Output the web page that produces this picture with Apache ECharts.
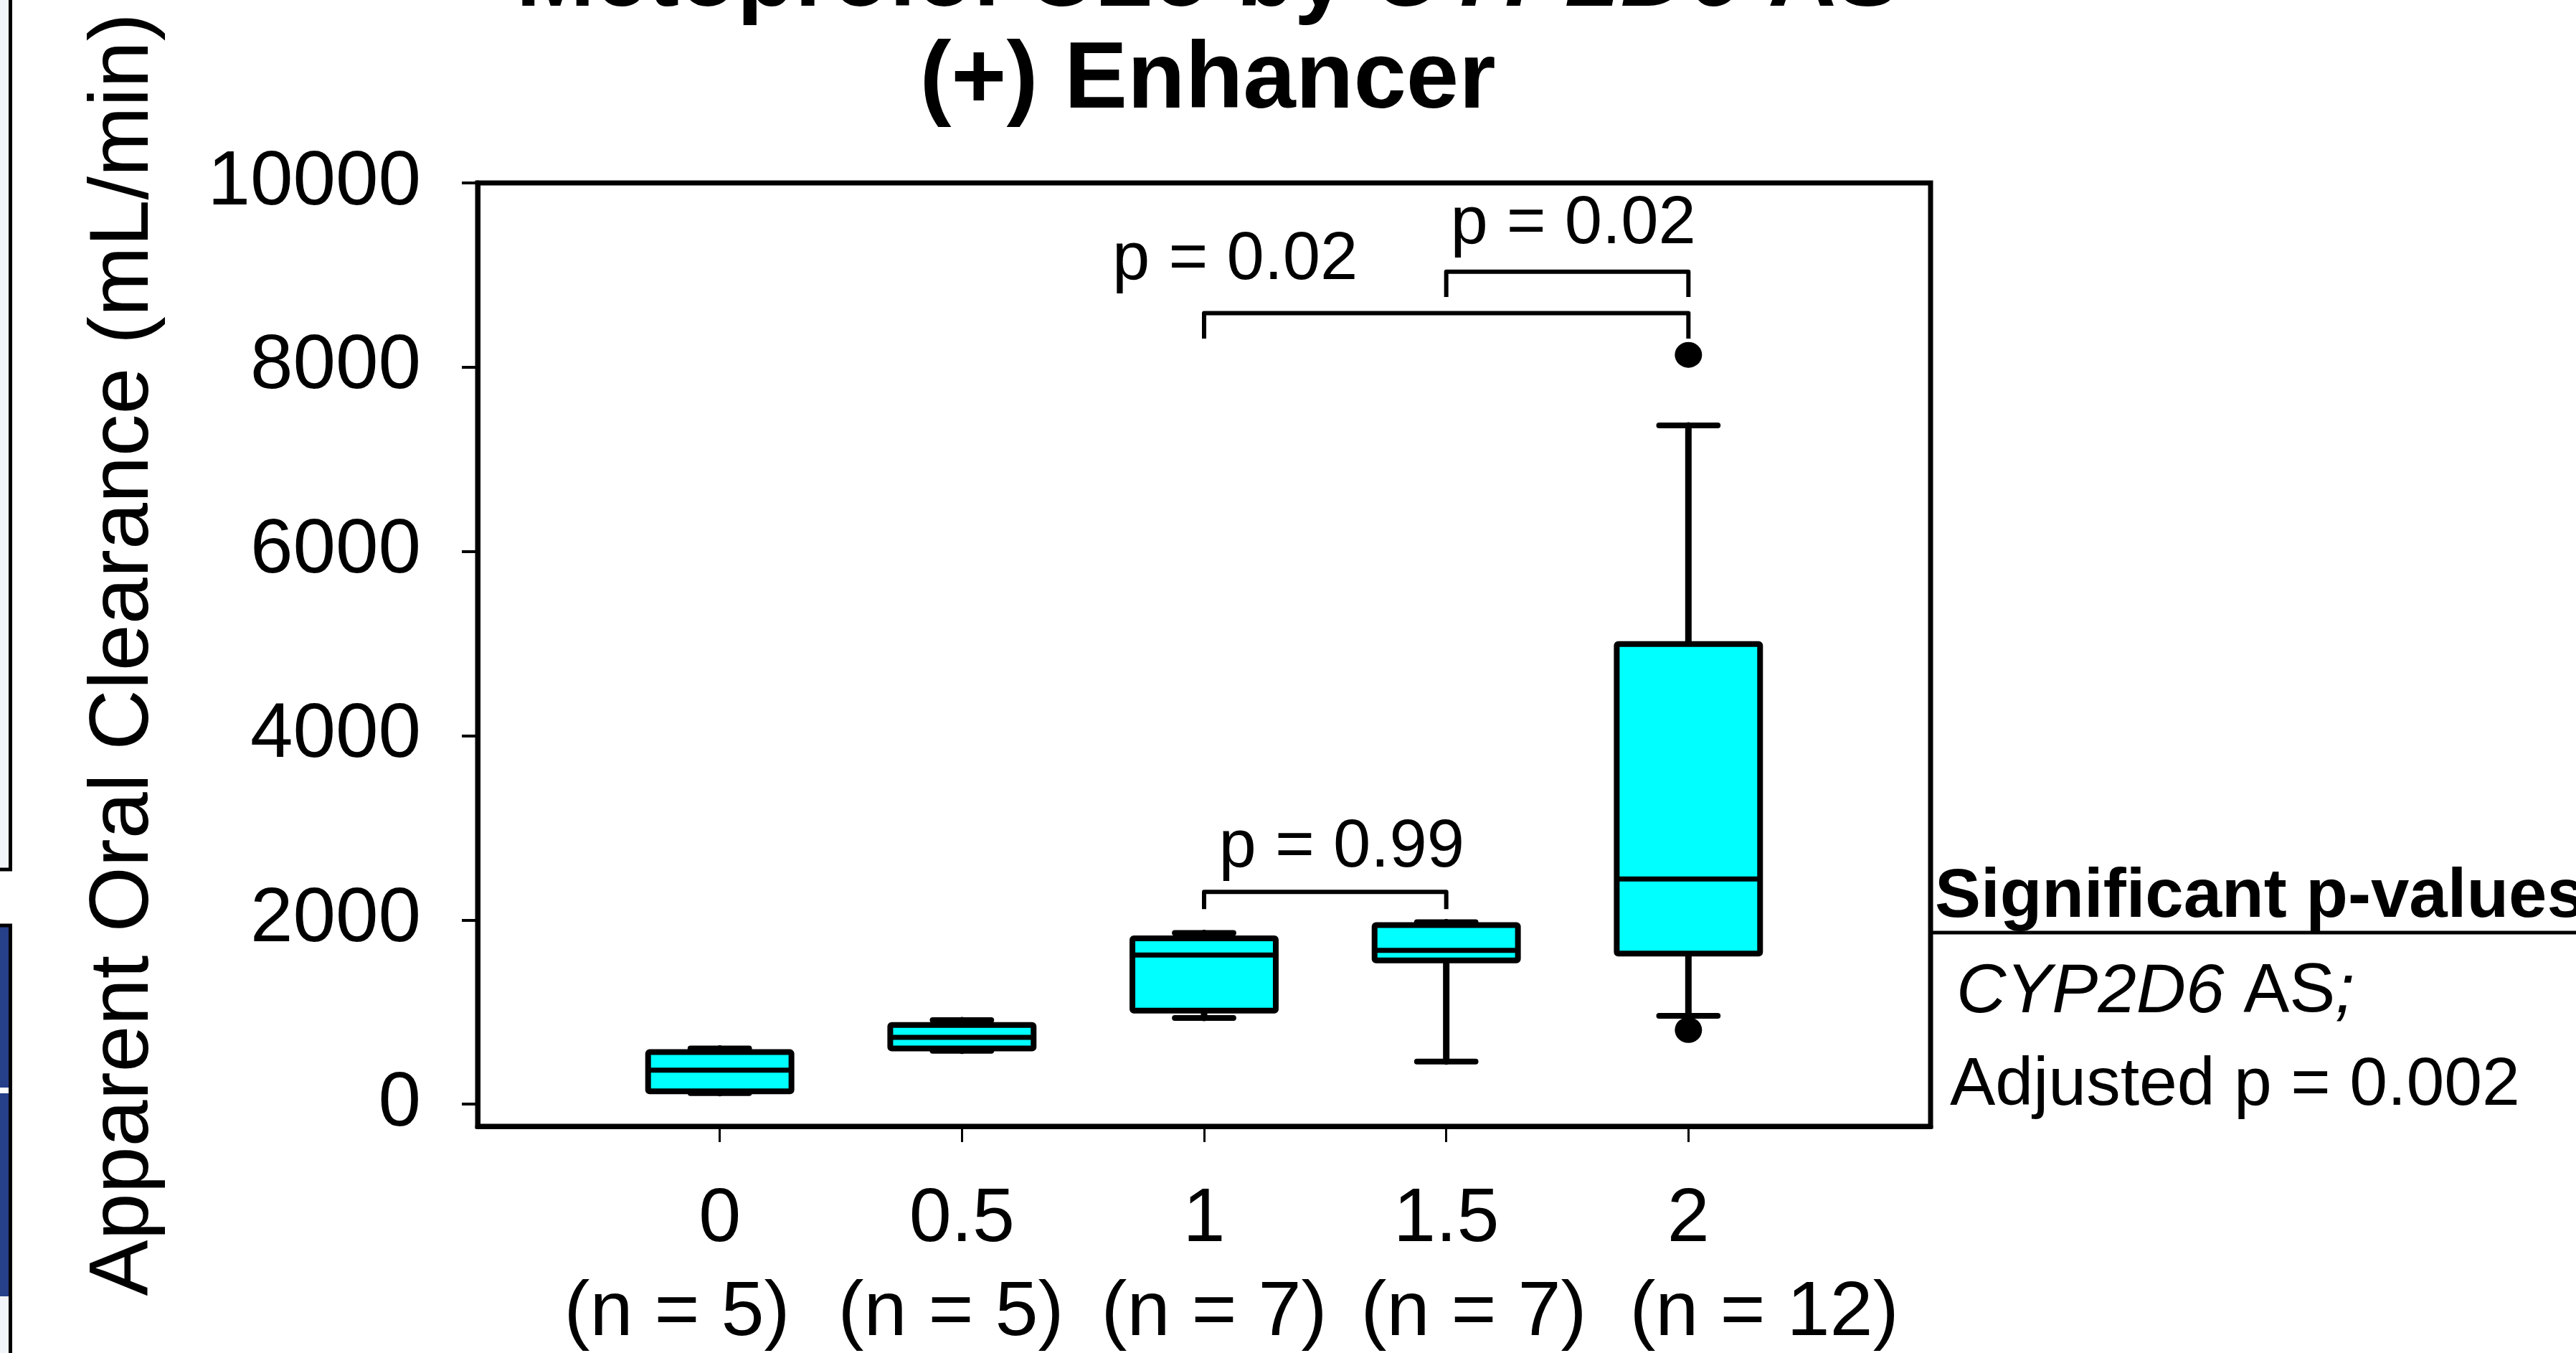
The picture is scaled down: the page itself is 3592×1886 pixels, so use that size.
<!DOCTYPE html>
<html>
<head>
<meta charset="utf-8">
<script src="https://cdn.jsdelivr.net/npm/echarts@6/dist/echarts.min.js"></script>
<style>
html,body{margin:0;padding:0;background:#fff;}
#chart{width:3592px;height:1886px;}
</style>
</head>
<body>
<div id="chart"></div>
<script>
// ---- data ----
const categories   = [0, 0.5, 1, 1.5, 2];
const xTickLabels  = ['0', '0.5', '1', '1.5', '2'];
const nLabels      = ['(n = 5)', '(n = 5)', '(n = 7)', '(n = 7)', '(n = 12)'];
const whiskerLow   = [120, 580, 935, 463, 960];
const q1           = [140, 605, 1015, 1560, 1635];
const median       = [370, 725, 1620, 1670, 2445];
const q3           = [565, 860, 1800, 1945, 4995];
const whiskerHigh  = [605, 912, 1858, 1975, 7368];
const outlierX     = [2, 2];
const outlierY     = [8134, 805];
const yTicks       = [0, 2000, 4000, 6000, 8000, 10000];
const bracketFrom  = [1, 1, 1.5];
const bracketTo    = [1.5, 2, 2];
const bracketTop   = [2305, 8586, 9037];
const bracketLeg   = [2118, 8310, 8762];
const pLabels      = ['p = 0.99', 'p = 0.02', 'p = 0.02'];
const pLabelX      = [1.284, 1.064, 1.762];
const pLabelY      = [2781, 9158, 9548];

// ---- style / layout constants ----
const FONT = '"Liberation Sans", Arial, sans-serif';
const BOX_WIDTH = 0.296;   // in x-axis units
const CAP_WIDTH = 0.121;   // in x-axis units
const N_LABEL_PX = [944, 1326, 1693, 2055, 2460]; // hand-placed n labels (pixel layout)
const N_LABEL_Y = 1831;

const chart = echarts.init(document.getElementById('chart'));

function renderBox(params, api) {
  const x = api.value(0);
  const pLow = api.coord([x, api.value(1)]);
  const pQ1 = api.coord([x, api.value(2)]);
  const pMed = api.coord([x, api.value(3)]);
  const pQ3 = api.coord([x, api.value(4)]);
  const pHigh = api.coord([x, api.value(5)]);
  const bw = api.size([BOX_WIDTH, 0])[0];
  const cw = api.size([CAP_WIDTH, 0])[0];
  const cx = pLow[0];
  const ls = {stroke: '#000', lineWidth: 9, lineCap: 'round'};
  const cs = {stroke: '#000', lineWidth: 8, lineCap: 'round'};
  return {
    type: 'group',
    children: [
      {type: 'line', shape: {x1: cx, y1: pLow[1], x2: cx, y2: pQ1[1]}, style: ls},
      {type: 'line', shape: {x1: cx, y1: pQ3[1], x2: cx, y2: pHigh[1]}, style: ls},
      {type: 'line', shape: {x1: cx - cw / 2, y1: pLow[1], x2: cx + cw / 2, y2: pLow[1]}, style: cs},
      {type: 'line', shape: {x1: cx - cw / 2, y1: pHigh[1], x2: cx + cw / 2, y2: pHigh[1]}, style: cs},
      {type: 'rect', shape: {x: cx - bw / 2, y: pQ3[1], width: bw, height: pQ1[1] - pQ3[1], r: 2},
        style: {fill: '#00FFFF', stroke: '#000', lineWidth: 8, lineJoin: 'round'}},
      {type: 'line', shape: {x1: cx - bw / 2, y1: pMed[1], x2: cx + bw / 2, y2: pMed[1]},
        style: {stroke: '#000', lineWidth: 7}}
    ]
  };
}

function renderBracket(params, api) {
  const a = api.coord([api.value(0), api.value(3)]);
  const b = api.coord([api.value(0), api.value(2)]);
  const c = api.coord([api.value(1), api.value(2)]);
  const d = api.coord([api.value(1), api.value(3)]);
  const t = api.coord([api.value(4), api.value(5)]);
  return {
    type: 'group',
    children: [
      {type: 'polyline', shape: {points: [a, b, c, d]},
        style: {stroke: '#000', lineWidth: 6, lineJoin: 'round', fill: null}},
      {type: 'text', x: t[0], y: t[1],
        style: {text: pLabels[params.dataIndex], font: '94px ' + FONT, fill: '#000',
          align: 'center', verticalAlign: 'middle'}}
    ]
  };
}

const nLabelGraphics = nLabels.map((t, i) => ({
  type: 'text', x: N_LABEL_PX[i], y: N_LABEL_Y,
  style: {text: t, font: '108px ' + FONT, fill: '#000', align: 'center', verticalAlign: 'middle'}
}));

const option = {
  animation: false,
  backgroundColor: '#fff',
  title: {
    text: '{b|Metoprolol CLo by }{bi|CYP2D6}{b| AS}\n{b|(+) Enhancer}',
    left: 1679,
    top: -104,
    textAlign: 'center',
    textStyle: {
      rich: {
        b: {fontSize: 132, fontWeight: 'bold', fontFamily: FONT, color: '#000', lineHeight: 142},
        bi: {fontSize: 132, fontWeight: 'bold', fontStyle: 'italic', fontFamily: FONT, color: '#000', lineHeight: 142}
      }
    }
  },
  grid: {
    left: 666, right: 900, top: 255, bottom: 316,
    show: true, borderColor: '#000', borderWidth: 7, backgroundColor: 'transparent',
    outerBoundsMode: 'none', containLabel: false
  },
  xAxis: {
    type: 'value',
    min: -0.5, max: 2.5,
    splitLine: {show: false},
    axisLine: {show: true, onZero: false, lineStyle: {color: '#000', width: 7}},
    axisTick: {show: true, customValues: categories, length: 22, lineStyle: {color: '#000', width: 3}},
    axisLabel: {
      customValues: categories,
      hideOverlap: false,
      margin: 66,
      lineHeight: 130,
      formatter: function (v) {
        const i = categories.indexOf(v);
        return i < 0 ? '' : xTickLabels[i];
      },
      fontSize: 106, fontFamily: FONT, color: '#000'
    }
  },
  yAxis: {
    type: 'value',
    min: -240, max: 10000,
    name: 'Apparent Oral Clearance (mL/min)',
    nameLocation: 'middle',
    nameGap: 434,
    nameTextStyle: {fontSize: 117, fontFamily: FONT, color: '#000'},
    splitLine: {show: false},
    axisLine: {show: true, onZero: false, lineStyle: {color: '#000', width: 7}},
    axisTick: {show: true, customValues: yTicks, length: 22, lineStyle: {color: '#000', width: 4}},
    axisLabel: {
      customValues: yTicks,
      hideOverlap: false,
      margin: 79,
      formatter: function (v) { return String(v); },
      fontSize: 107, fontFamily: FONT, color: '#000'
    }
  },
  series: [
    {
      type: 'custom',
      name: 'box',
      renderItem: renderBox,
      clip: false,
      encode: {x: 0, y: [1, 2, 3, 4, 5]},
      data: categories.map((c, i) => [c, whiskerLow[i], q1[i], median[i], q3[i], whiskerHigh[i]]),
      z: 3
    },
    {
      type: 'scatter',
      name: 'outliers',
      symbol: 'circle',
      symbolSize: [38, 36],
      itemStyle: {color: '#000', opacity: 1},
      emphasis: {disabled: true},
      data: outlierX.map((x, i) => [x, outlierY[i]]),
      z: 4
    },
    {
      type: 'custom',
      name: 'brackets',
      renderItem: renderBracket,
      clip: false,
      encode: {x: [0, 1, 4], y: [2, 3, 5]},
      data: bracketFrom.map((f, i) => [f, bracketTo[i], bracketTop[i], bracketLeg[i], pLabelX[i], pLabelY[i]]),
      z: 5
    }
  ],
  graphic: [
    // fragment of neighbouring panel at the left edge
    {type: 'rect', shape: {x: 0, y: 0, width: 13, height: 1210}, style: {fill: '#F1F5F9'}},
    {type: 'line', shape: {x1: 14.5, y1: 0, x2: 14.5, y2: 1214}, style: {stroke: '#000', lineWidth: 5}},
    {type: 'line', shape: {x1: 0, y1: 1212, x2: 17, y2: 1212}, style: {stroke: '#000', lineWidth: 5}},
    {type: 'rect', shape: {x: 0, y: 1292, width: 13, height: 515}, style: {fill: '#26418A'}},
    {type: 'rect', shape: {x: 0, y: 1516, width: 13, height: 8}, style: {fill: '#FFFFFF'}},
    {type: 'rect', shape: {x: 0, y: 1807, width: 13, height: 79}, style: {fill: '#F1F5F9'}},
    {type: 'line', shape: {x1: 0, y1: 1290, x2: 17, y2: 1290}, style: {stroke: '#000', lineWidth: 5}},
    {type: 'line', shape: {x1: 14.5, y1: 1288, x2: 14.5, y2: 1886}, style: {stroke: '#000', lineWidth: 5}},
    // right annotation
    {type: 'text', x: 2698, y: 1252,
      style: {text: 'Significant p-values', font: 'bold 96px ' + FONT, fill: '#000', verticalAlign: 'middle'}},
    {type: 'line', shape: {x1: 2692, y1: 1300, x2: 3592, y2: 1300}, style: {stroke: '#000', lineWidth: 5}},
    {type: 'text', x: 2728, y: 1384,
      style: {text: '{i|CYP2D6}{r| AS}{i|;}', verticalAlign: 'middle',
        rich: {
          i: {fontSize: 96, fontStyle: 'italic', fontFamily: FONT, fill: '#000'},
          r: {fontSize: 96, fontFamily: FONT, fill: '#000'}
        }}},
    {type: 'text', x: 2719, y: 1514,
      style: {text: 'Adjusted p = 0.002', font: '95px ' + FONT, fill: '#000', verticalAlign: 'middle'}}
  ].concat(nLabelGraphics)
};

chart.setOption(option);
</script>
</body>
</html>
